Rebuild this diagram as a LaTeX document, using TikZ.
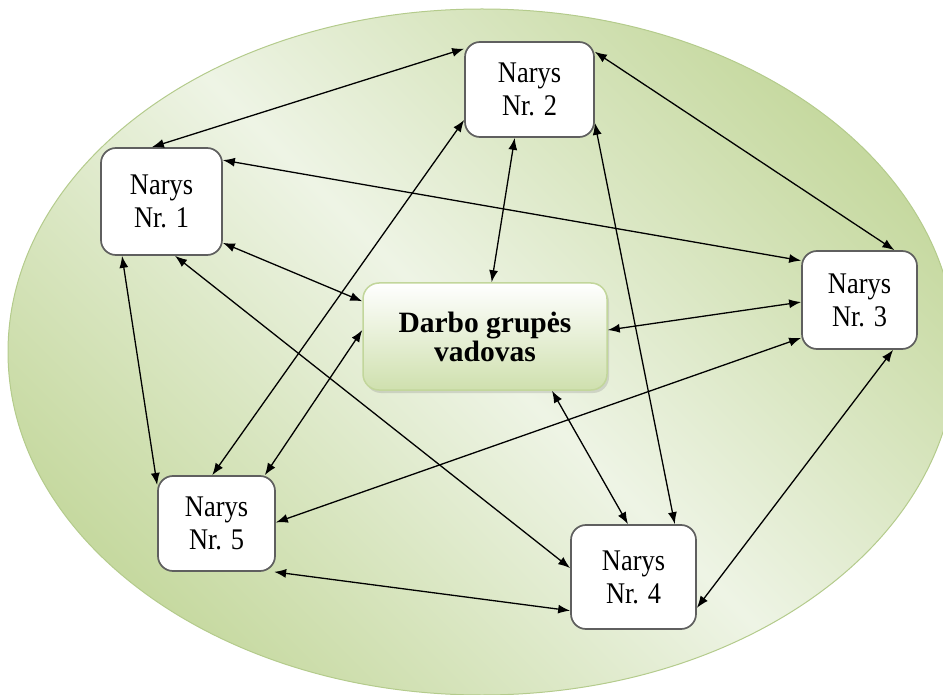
\documentclass[tikz,border=0pt]{standalone}
\usepackage{fontspec}
\setmainfont{Liberation Serif}
\newfontfamily\memberfont{Liberation Serif}[FakeStretch=0.88]
\usetikzlibrary{arrows.meta,shadows}

\definecolor{ovalDark}{HTML}{C6D9A0}
\definecolor{ovalLight}{HTML}{EEF4E5}
\definecolor{ovalEdge}{HTML}{B4CB8C}
\definecolor{leadGreen}{HTML}{CFE0AE}
\definecolor{leadEdge}{HTML}{C2D69B}
\definecolor{boxEdge}{HTML}{5F5F5F}

\begin{document}
\begin{tikzpicture}[x=1pt, y=-1pt,
  member/.style={draw=boxEdge, line width=1.7pt, fill=white, rounded corners=15pt,
    align=center, inner sep=0pt, font=\memberfont\fontsize{30}{33}\selectfont},
  leader/.style={draw=leadEdge, line width=1.5pt, top color=white, bottom color=leadGreen,
    rounded corners=16pt, align=center, inner sep=0pt, minimum width=244pt, minimum height=107pt,
    font=\bfseries\fontsize{29.5}{29}\selectfont,
    drop shadow={shadow xshift=2pt, shadow yshift=-3pt, opacity=0.25}},
  link/.style={{Latex[length=12pt,width=9pt]}-{Latex[length=12pt,width=9pt]}, line width=1.3pt}]

  \useasboundingbox (0,0) rectangle (943,695);

  % Background oval
  \shade[top color=ovalDark, bottom color=ovalDark, middle color=ovalLight, shading angle=-45,
    draw=ovalEdge, line width=1pt] (482,352) ellipse [x radius=474, y radius=343];

  % Group leader
  \node[leader] (lead) at (485,336.5) {Darbo grupės\\vadovas};

  % Members
  \node[member, minimum width=121pt, minimum height=107pt] (m1) at (161.5,201.5) {Narys\\Nr. 1};
  \node[member, minimum width=129pt, minimum height=95pt] (m2) at (529.5,89.5) {Narys\\Nr. 2};
  \node[member, minimum width=115pt, minimum height=98pt] (m3) at (859.5,300) {Narys\\Nr. 3};
  \node[member, minimum width=125pt, minimum height=104pt] (m4) at (633.5,577) {Narys\\Nr. 4};
  \node[member, minimum width=117pt, minimum height=95pt] (m5) at (216.5,523.5) {Narys\\Nr. 5};

  % Links between members
  \draw[link] (m1.100) -- (m2.148);
  \draw[link] (m2.30) -- (m3.55);
  \draw[link] (m1.34) -- (m3.146);
  \draw[link] (m2.205) -- (m5.95);
  \draw[link] (m2.333) -- (m4.52);
  \draw[link] (m3.213) -- (m5.1);
  \draw[link] (m1.234) -- (m5.147);
  \draw[link] (m1.284) -- (m4.172);
  \draw[link] (m5.320) -- (m4.208);
  \draw[link] (m3.304) -- (m4.334);

  % Links to the leader
  \draw[link] (m2.253) -- (lead.83);
  \draw[link] (m1.326) -- (lead.164);
  \draw[link] (m3.182) -- (lead.3);
  \draw[link] (lead.177) -- (m5.45);
  \draw[link] (lead.321) -- (m4.96);
\end{tikzpicture}
\end{document}
